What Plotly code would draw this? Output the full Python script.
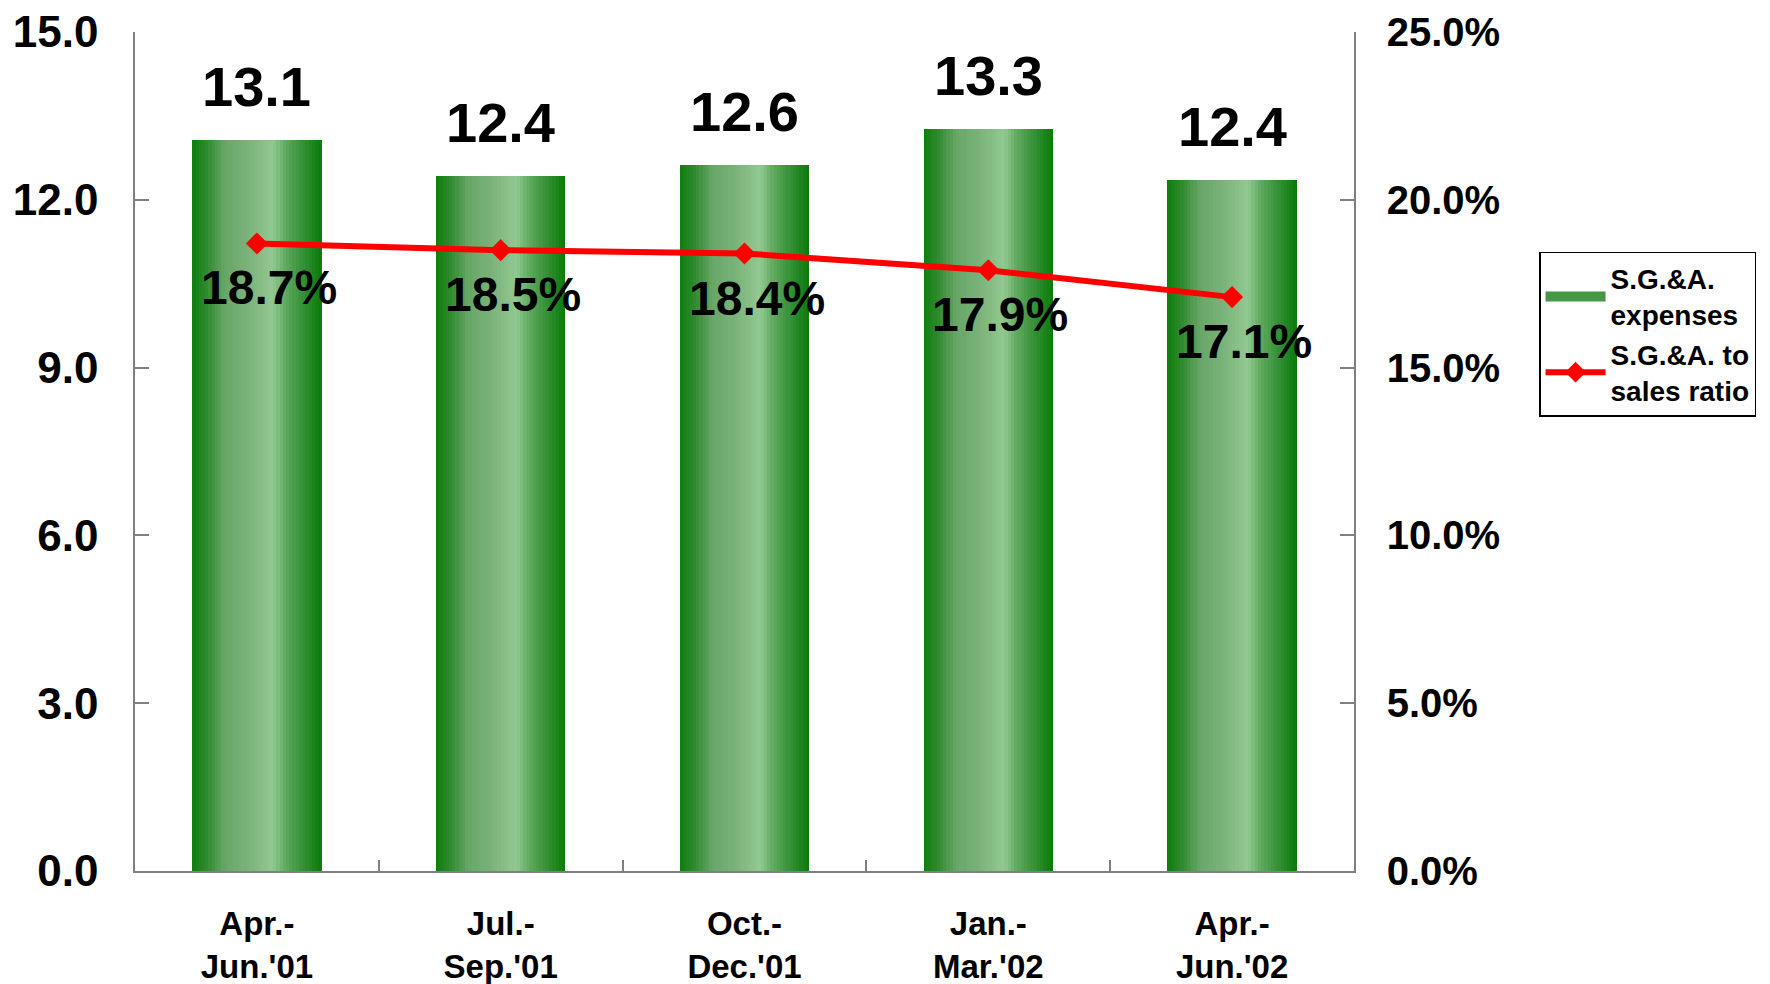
import plotly.graph_objects as go

# ---- data ----
categories = ["Apr.-<br>Jun.'01", "Jul.-<br>Sep.'01", "Oct.-<br>Dec.'01",
              "Jan.-<br>Mar.'02", "Apr.-<br>Jun.'02"]
sga_expenses = [13.07, 12.42, 12.63, 13.27, 12.36]      # left axis
sga_ratio = [0.187, 0.185, 0.184, 0.179, 0.171]          # right axis
left_ticks = [0, 3, 6, 9, 12, 15]
right_ticks = [0.0, 0.05, 0.10, 0.15, 0.20, 0.25]
bar_name = "S.G.&A.<br>expenses"
line_name = "S.G.&A. to<br>sales ratio"

# ---- style ----
FONT = "Liberation Sans, Arial, sans-serif"
AX = "#808080"
BAR_W = 0.53
N = 40
stops = [(0.00, (14, 126, 14)), (0.12, (50, 140, 50)), (0.25, (104, 166, 104)),
         (0.45, (124, 180, 124)), (0.62, (146, 201, 146)), (0.72, (96, 170, 96)),
         (0.86, (52, 144, 52)), (1.00, (10, 122, 10))]


def grad(t):
    for (t0, c0), (t1, c1) in zip(stops[:-1], stops[1:]):
        if t0 <= t <= t1:
            f = (t - t0) / (t1 - t0)
            c = [round(a + (b - a) * f) for a, b in zip(c0, c1)]
            return "rgb(%d,%d,%d)" % tuple(c)
    return "rgb(%d,%d,%d)" % stops[-1][1]


fig = go.Figure()
sw = BAR_W / N
for k in range(N):
    t = (k + 0.5) / N
    fig.add_trace(go.Bar(
        x=categories, y=sga_expenses,
        offset=-BAR_W / 2 + k * sw,
        width=sw * (1.6 if k < N - 1 else 1.0),
        marker=dict(color=grad(t), line=dict(width=0)),
        name=bar_name, showlegend=False,
        hoverinfo="skip",
    ))

# legend proxy for the gradient bars (wide swatch)
fig.add_trace(go.Scatter(
    x=[None], y=[None], mode="lines",
    line=dict(color="rgb(70,152,70)", width=20),
    name=bar_name, showlegend=True, legendrank=1,
))

fig.add_trace(go.Scatter(
    x=categories, y=sga_ratio, yaxis="y2", mode="lines+markers",
    line=dict(color="#ff0000", width=6),
    marker=dict(symbol="diamond", size=17, color="#ff0000"),
    name=line_name, legendrank=2,
))

annotations = []
for c, v in zip(categories, sga_expenses):
    annotations.append(dict(x=c, y=v, xref="x", yref="y", text=f"{v:.1f}",
                            showarrow=False, yanchor="bottom", yshift=20,
                            font=dict(family=FONT, size=56, color="black", weight="bold")))
for c, r in zip(categories, sga_ratio):
    annotations.append(dict(x=c, y=r, xref="x", yref="y2", text=f"{r*100:.1f}%",
                            showarrow=False, yanchor="top", yshift=-16, xshift=12,
                            font=dict(family=FONT, size=48, color="black", weight="bold")))

fig.update_layout(
    width=1770, height=984, autosize=False,
    margin=dict(l=135, r=416, t=32, b=113),
    paper_bgcolor="white", plot_bgcolor="white",
    barmode="overlay", bargap=0,
    font=dict(family=FONT, color="black"),
    annotations=annotations,
    xaxis=dict(showline=True, linecolor=AX, linewidth=1.5, ticks="inside",
               tickson="boundaries", ticklen=11, tickcolor=AX, tickwidth=1.5,
               showgrid=False, tickfont=dict(size=33, weight="bold", color="black"),
               ticklabelstandoff=23, automargin=False),
    yaxis=dict(range=[0, 15], tickvals=left_ticks, tickformat=".1f",
               showline=True, linecolor=AX, linewidth=1.5, ticks="inside",
               ticklen=14, tickcolor=AX, tickwidth=1.5, showgrid=False, zeroline=False,
               tickfont=dict(size=44, weight="bold", color="black"),
               ticklabelstandoff=26, automargin=False),
    yaxis2=dict(range=[0, 0.25], tickvals=right_ticks, tickformat=".1%",
                overlaying="y", side="right",
                showline=True, linecolor=AX, linewidth=1.5, ticks="inside",
                ticklen=14, tickcolor=AX, tickwidth=1.5, showgrid=False, zeroline=False,
                tickfont=dict(size=40, weight="bold", color="black"),
                ticklabelstandoff=23, automargin=False),
    legend=dict(x=1.1518, y=0.7378, xanchor="left", yanchor="top",
                bgcolor="white", bordercolor="#000000", borderwidth=1.5,
                font=dict(size=28, weight="bold", color="black"),
                itemwidth=60, traceorder="normal"),
    showlegend=True,
)

fig.write_html("out.html", config={"displayModeBar": False},
               post_script="document.body.style.margin='0';")
